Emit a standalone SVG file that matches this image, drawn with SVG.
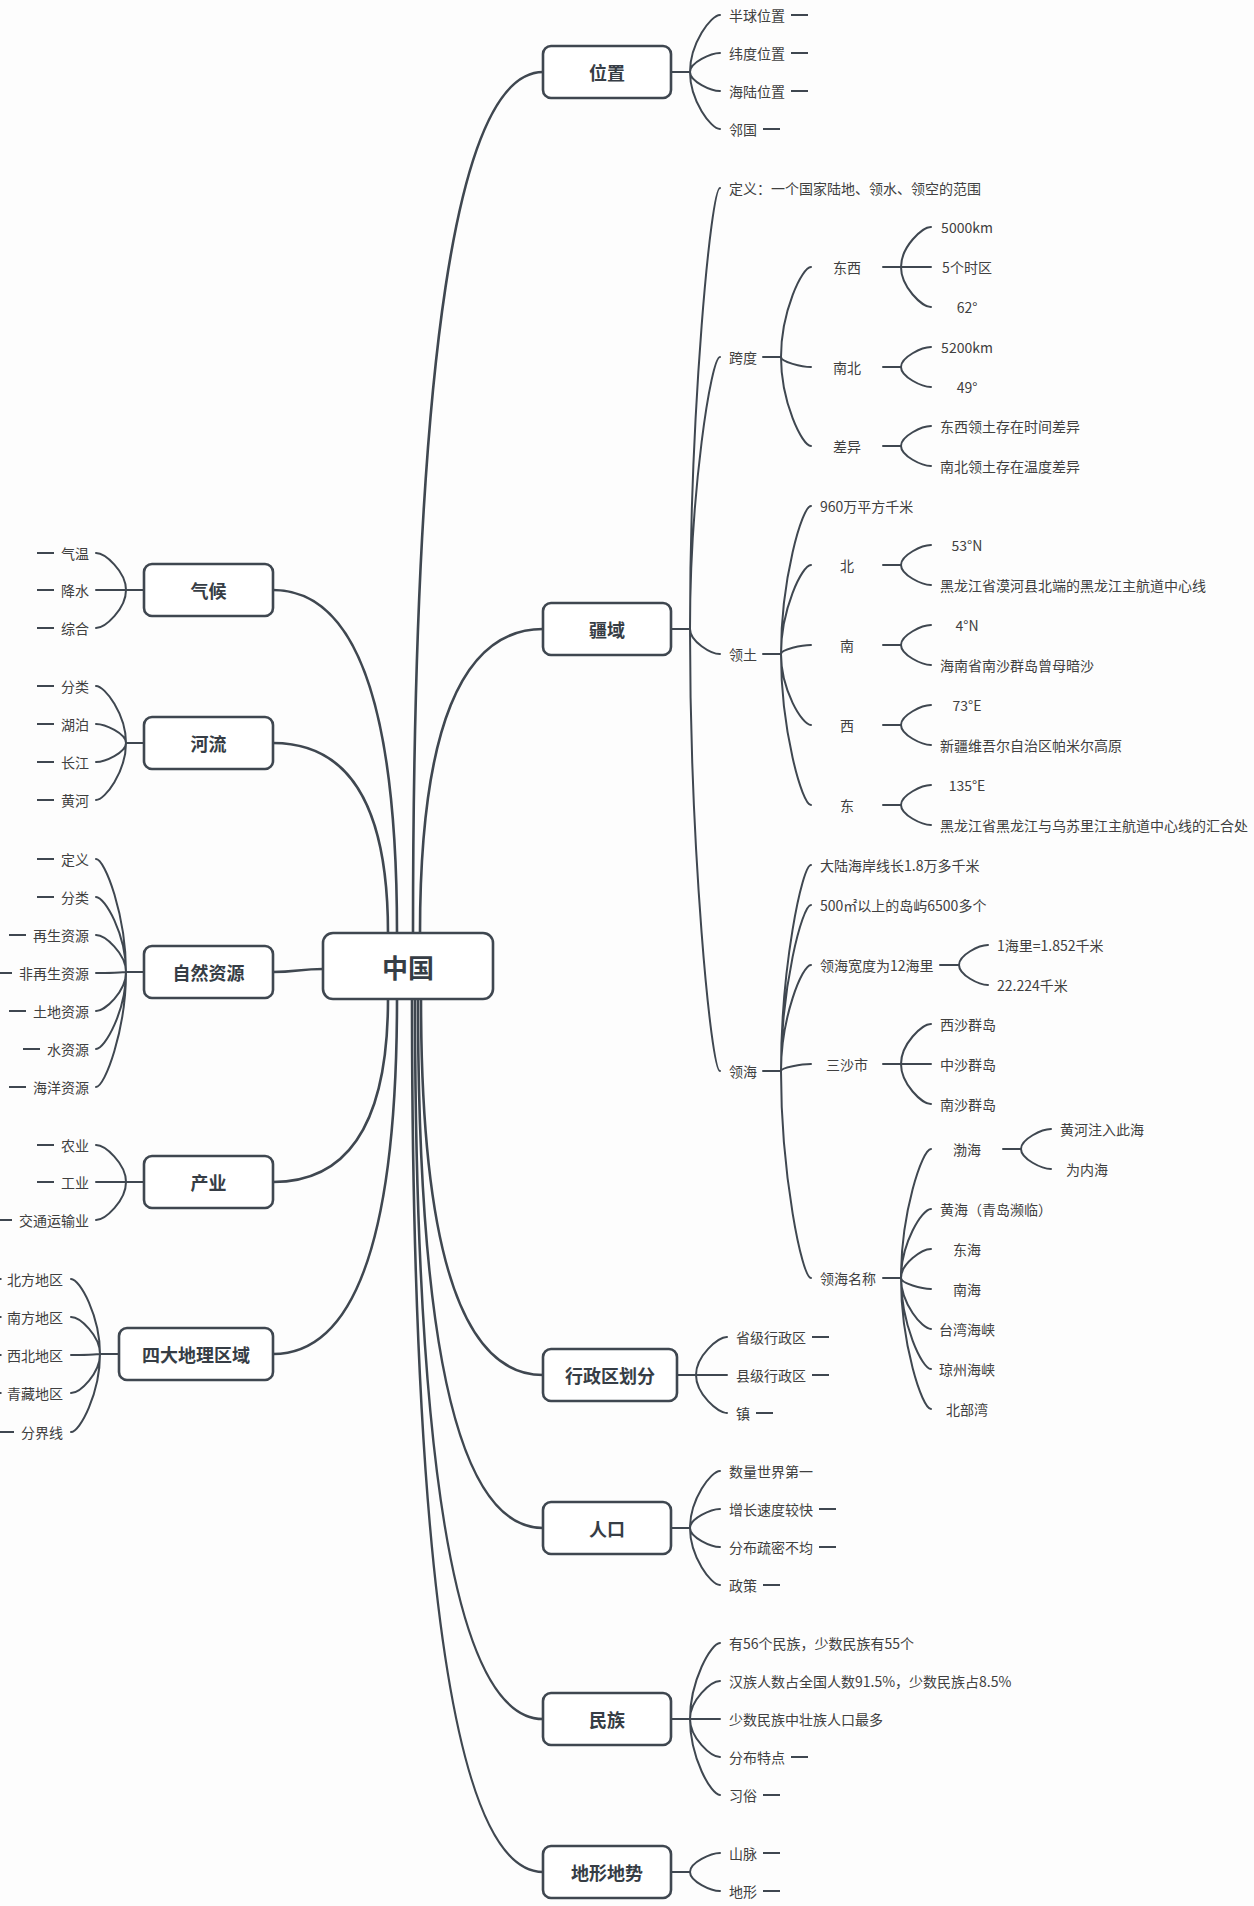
<svg xmlns="http://www.w3.org/2000/svg" width="1254" height="1906" viewBox="0 0 1254 1906">
<style>
.c{fill:none;stroke:#3f4750;stroke-width:2;stroke-linecap:round}
.m{stroke-width:2.6}
.b{fill:#fff;stroke:#3f4750;stroke-width:2.6}
.d{stroke:#3f4750;stroke-width:2}
text{font-family:"Noto Sans CJK SC","Noto Sans",sans-serif;dominant-baseline:central}
.t{font-size:14px;fill:#404040}
.e{text-anchor:end}
.mid{text-anchor:middle}
.h{font-size:18px;font-weight:bold;fill:#363d45;text-anchor:middle}
.ct{font-size:26px;font-weight:bold;fill:#363d45;text-anchor:middle}
</style>
<rect width="1254" height="1906" fill="#fdfdfd"/>
<g id="connectors" class="c">
<path class="m" d="M413,933 Q413,72 543,72"/>
<path class="m" d="M420,933 Q420,629 543,629"/>
<path class="m" d="M421,999 Q421,1375 543,1375"/>
<path class="m" d="M418,999 Q418,1528 543,1528"/>
<path class="m" d="M415,999 Q415,1719 543,1719"/>
<path class="m" d="M412,999 Q412,1872 543,1872"/>
<path class="m" d="M397,933 Q397,590 273,590"/>
<path class="m" d="M388,933 Q388,743 273,743"/>
<path class="m" d="M323,969 C300,969 296,972 273,972"/>
<path class="m" d="M388,999 Q388,1182 273,1182"/>
<path class="m" d="M397,999 Q397,1354 273,1354"/>
<path d="M671,72 H690 M690,72 C690,43.5 711,15 720,15 M690,72 C690,62.5 711,53 720,53 M690,72 C690,81.5 711,91 720,91 M690,72 C690,100.5 711,129 720,129"/>
<path d="M671,629 H690 M690,629 C690,408.5 711,188 720,188 M690,629 C690,493 711,357 720,357 M690,629 C690,641.5 711,654 720,654 M690,629 C690,850 711,1071 720,1071"/>
<path d="M763,357 H781 M781,357 C781,312 802,267 811,267 M781,357 C781,362 802,367 811,367 M781,357 C781,401.5 802,446 811,446"/>
<path d="M883,267 H901 M901,267 C901,247 922,227 931,227 M901,267 H931 M901,267 C901,287 922,307 931,307"/>
<path d="M883,367 H901 M901,367 C901,357 922,347 931,347 M901,367 C901,377 922,387 931,387"/>
<path d="M883,446 H901 M901,446 C901,436 922,426 931,426 M901,446 C901,456 922,466 931,466"/>
<path d="M763,654 H781 M781,654 C781,580 802,506 811,506 M781,654 C781,609.5 802,565 811,565 M781,654 C781,649.5 802,645 811,645 M781,654 C781,689.5 802,725 811,725 M781,654 C781,729.5 802,805 811,805"/>
<path d="M883,565 H901 M901,565 C901,555 922,545 931,545 M901,565 C901,575 922,585 931,585"/>
<path d="M883,645 H901 M901,645 C901,635 922,625 931,625 M901,645 C901,655 922,665 931,665"/>
<path d="M883,725 H901 M901,725 C901,715 922,705 931,705 M901,725 C901,735 922,745 931,745"/>
<path d="M883,805 H901 M901,805 C901,795 922,785 931,785 M901,805 C901,815 922,825 931,825"/>
<path d="M763,1071 H781 M781,1071 C781,968 802,865 811,865 M781,1071 C781,988 802,905 811,905 M781,1071 C781,1018 802,965 811,965 M781,1071 C781,1067.5 802,1064 811,1064 M781,1071 C781,1174.5 802,1278 811,1278"/>
<path d="M940,965 H959 M959,965 C959,955 979,945 988,945 M959,965 C959,975 979,985 988,985"/>
<path d="M883,1064 H901 M901,1064 C901,1044 922,1024 931,1024 M901,1064 H931 M901,1064 C901,1084 922,1104 931,1104"/>
<path d="M883,1278 H901 M901,1278 C901,1213.5 922,1149 931,1149 M901,1278 C901,1243.5 922,1209 931,1209 M901,1278 C901,1263.5 922,1249 931,1249 M901,1278 C901,1283.5 922,1289 931,1289 M901,1278 C901,1303.5 922,1329 931,1329 M901,1278 C901,1323.5 922,1369 931,1369 M901,1278 C901,1343.5 922,1409 931,1409"/>
<path d="M1003,1149 H1021 M1021,1149 C1021,1139 1042,1129 1051,1129 M1021,1149 C1021,1159 1042,1169 1051,1169"/>
<path d="M677,1375 H696 M696,1375 C696,1356 718,1337 727,1337 M696,1375 H727 M696,1375 C696,1394 718,1413 727,1413"/>
<path d="M671,1528 H690 M690,1528 C690,1499.5 711,1471 720,1471 M690,1528 C690,1518.5 711,1509 720,1509 M690,1528 C690,1537.5 711,1547 720,1547 M690,1528 C690,1556.5 711,1585 720,1585"/>
<path d="M671,1719 H690 M690,1719 C690,1681 711,1643 720,1643 M690,1719 C690,1700 711,1681 720,1681 M690,1719 H720 M690,1719 C690,1738 711,1757 720,1757 M690,1719 C690,1757 711,1795 720,1795"/>
<path d="M671,1872 H690 M690,1872 C690,1862.5 711,1853 720,1853 M690,1872 C690,1881.5 711,1891 720,1891"/>
<path d="M144,590 H126 M126,590 C126,571.5 105,553 96,553 M126,590 H96 M126,590 C126,609 105,628 96,628"/>
<path d="M144,743 H126 M126,743 C126,714.5 105,686 96,686 M126,743 C126,733.5 105,724 96,724 M126,743 C126,752.5 105,762 96,762 M126,743 C126,771.5 105,800 96,800"/>
<path d="M144,972 H126 M126,972 C126,915.5 105,859 96,859 M126,972 C126,934.5 105,897 96,897 M126,972 C126,953.5 105,935 96,935 M126,972 C126,972.5 105,973 96,973 M126,972 C126,991.5 105,1011 96,1011 M126,972 C126,1010.5 105,1049 96,1049 M126,972 C126,1029.5 105,1087 96,1087"/>
<path d="M144,1182 H126 M126,1182 C126,1163.5 105,1145 96,1145 M126,1182 H96 M126,1182 C126,1201 105,1220 96,1220"/>
<path d="M119,1354 H100 M100,1354 C100,1316.5 80,1279 71,1279 M100,1354 C100,1335.5 80,1317 71,1317 M100,1354 C100,1354.5 80,1355 71,1355 M100,1354 C100,1373.5 80,1393 71,1393 M100,1354 C100,1393 80,1432 71,1432"/>
</g>
<g id="center"><rect class="b" x="323" y="933" width="170" height="66" rx="10" stroke-width="3"/><text class="ct" x="408" y="966">中国</text></g>
<g id="n-weizhi"><rect class="b" x="543" y="46" width="128" height="52" rx="8"/><text class="h" x="607" y="72">位置</text></g>
<g id="n-banqiu"><text class="t" x="729" y="15">半球位置</text><line class="d" x1="791" y1="15" x2="808" y2="15"/></g>
<g id="n-weidu"><text class="t" x="729" y="53">纬度位置</text><line class="d" x1="791" y1="53" x2="808" y2="53"/></g>
<g id="n-hailu"><text class="t" x="729" y="91">海陆位置</text><line class="d" x1="791" y1="91" x2="808" y2="91"/></g>
<g id="n-linguo"><text class="t" x="729" y="129">邻国</text><line class="d" x1="763" y1="129" x2="780" y2="129"/></g>
<g id="n-jiangyu"><rect class="b" x="543" y="603" width="128" height="52" rx="8"/><text class="h" x="607" y="629">疆域</text></g>
<g id="n-dingyi"><text class="t" x="729" y="188">定义：一个国家陆地、领水、领空的范围</text></g>
<g id="n-kuadu"><text class="t" x="729" y="357">跨度</text></g>
<g id="n-dongxi"><text class="t mid" x="847" y="267">东西</text></g>
<g id="n-5000"><text class="t mid" x="967" y="227">5000km</text></g>
<g id="n-5sq"><text class="t mid" x="967" y="267">5个时区</text></g>
<g id="n-62"><text class="t mid" x="967" y="307">62°</text></g>
<g id="n-nanbei"><text class="t mid" x="847" y="367">南北</text></g>
<g id="n-5200"><text class="t mid" x="967" y="347">5200km</text></g>
<g id="n-49"><text class="t mid" x="967" y="387">49°</text></g>
<g id="n-chayi"><text class="t mid" x="847" y="446">差异</text></g>
<g id="n-cy1"><text class="t" x="940" y="426">东西领土存在时间差异</text></g>
<g id="n-cy2"><text class="t" x="940" y="466">南北领土存在温度差异</text></g>
<g id="n-lingtu"><text class="t" x="729" y="654">领土</text></g>
<g id="n-960"><text class="t" x="820" y="506">960万平方千米</text></g>
<g id="n-bei"><text class="t mid" x="847" y="565">北</text></g>
<g id="n-53"><text class="t mid" x="967" y="545">53°N</text></g>
<g id="n-bei2"><text class="t" x="940" y="585">黑龙江省漠河县北端的黑龙江主航道中心线</text></g>
<g id="n-nan"><text class="t mid" x="847" y="645">南</text></g>
<g id="n-4"><text class="t mid" x="967" y="625">4°N</text></g>
<g id="n-nan2"><text class="t" x="940" y="665">海南省南沙群岛曾母暗沙</text></g>
<g id="n-xi"><text class="t mid" x="847" y="725">西</text></g>
<g id="n-73"><text class="t mid" x="967" y="705">73°E</text></g>
<g id="n-xi2"><text class="t" x="940" y="745">新疆维吾尔自治区帕米尔高原</text></g>
<g id="n-dong"><text class="t mid" x="847" y="805">东</text></g>
<g id="n-135"><text class="t mid" x="967" y="785">135°E</text></g>
<g id="n-dong2"><text class="t" x="940" y="825">黑龙江省黑龙江与乌苏里江主航道中心线的汇合处</text></g>
<g id="n-linghai"><text class="t" x="729" y="1071">领海</text></g>
<g id="n-anx"><text class="t" x="820" y="865">大陆海岸线长1.8万多千米</text></g>
<g id="n-dao"><text class="t" x="820" y="905">500㎡以上的岛屿6500多个</text></g>
<g id="n-kuan"><text class="t" x="820" y="965">领海宽度为12海里</text></g>
<g id="n-hl1"><text class="t" x="997" y="945">1海里=1.852千米</text></g>
<g id="n-hl2"><text class="t" x="997" y="985">22.224千米</text></g>
<g id="n-sansha"><text class="t mid" x="847" y="1064">三沙市</text></g>
<g id="n-xisha"><text class="t" x="940" y="1024">西沙群岛</text></g>
<g id="n-zhongsha"><text class="t" x="940" y="1064">中沙群岛</text></g>
<g id="n-nansha"><text class="t" x="940" y="1104">南沙群岛</text></g>
<g id="n-mingcheng"><text class="t" x="820" y="1278">领海名称</text></g>
<g id="n-bohai"><text class="t mid" x="967" y="1149">渤海</text></g>
<g id="n-bh1"><text class="t" x="1060" y="1129">黄河注入此海</text></g>
<g id="n-bh2"><text class="t mid" x="1087" y="1169">为内海</text></g>
<g id="n-huanghai"><text class="t" x="940" y="1209">黄海（青岛濒临）</text></g>
<g id="n-donghai"><text class="t mid" x="967" y="1249">东海</text></g>
<g id="n-nanhai"><text class="t mid" x="967" y="1289">南海</text></g>
<g id="n-taiwan"><text class="t mid" x="967" y="1329">台湾海峡</text></g>
<g id="n-qiongzhou"><text class="t mid" x="967" y="1369">琼州海峡</text></g>
<g id="n-beibu"><text class="t mid" x="967" y="1409">北部湾</text></g>
<g id="n-xingzheng"><rect class="b" x="543" y="1349" width="134" height="52" rx="8"/><text class="h" x="610" y="1375">行政区划分</text></g>
<g id="n-sheng"><text class="t" x="736" y="1337">省级行政区</text><line class="d" x1="812" y1="1337" x2="829" y2="1337"/></g>
<g id="n-xian"><text class="t" x="736" y="1375">县级行政区</text><line class="d" x1="812" y1="1375" x2="829" y2="1375"/></g>
<g id="n-zhen"><text class="t" x="736" y="1413">镇</text><line class="d" x1="756" y1="1413" x2="773" y2="1413"/></g>
<g id="n-renkou"><rect class="b" x="543" y="1502" width="128" height="52" rx="8"/><text class="h" x="607" y="1528">人口</text></g>
<g id="n-rk1"><text class="t" x="729" y="1471">数量世界第一</text></g>
<g id="n-rk2"><text class="t" x="729" y="1509">增长速度较快</text><line class="d" x1="819" y1="1509" x2="836" y2="1509"/></g>
<g id="n-rk3"><text class="t" x="729" y="1547">分布疏密不均</text><line class="d" x1="819" y1="1547" x2="836" y2="1547"/></g>
<g id="n-rk4"><text class="t" x="729" y="1585">政策</text><line class="d" x1="763" y1="1585" x2="780" y2="1585"/></g>
<g id="n-minzu"><rect class="b" x="543" y="1693" width="128" height="52" rx="8"/><text class="h" x="607" y="1719">民族</text></g>
<g id="n-mz1"><text class="t" x="729" y="1643">有56个民族，少数民族有55个</text></g>
<g id="n-mz2"><text class="t" x="729" y="1681">汉族人数占全国人数91.5%，少数民族占8.5%</text></g>
<g id="n-mz3"><text class="t" x="729" y="1719">少数民族中壮族人口最多</text></g>
<g id="n-mz4"><text class="t" x="729" y="1757">分布特点</text><line class="d" x1="791" y1="1757" x2="808" y2="1757"/></g>
<g id="n-mz5"><text class="t" x="729" y="1795">习俗</text><line class="d" x1="763" y1="1795" x2="780" y2="1795"/></g>
<g id="n-dixing"><rect class="b" x="543" y="1846" width="128" height="52" rx="8"/><text class="h" x="607" y="1872">地形地势</text></g>
<g id="n-shanmai"><text class="t" x="729" y="1853">山脉</text><line class="d" x1="763" y1="1853" x2="780" y2="1853"/></g>
<g id="n-dixing2"><text class="t" x="729" y="1891">地形</text><line class="d" x1="763" y1="1891" x2="780" y2="1891"/></g>
<g id="n-qihou"><rect class="b" x="144" y="564" width="129" height="52" rx="8"/><text class="h" x="208.5" y="590">气候</text></g>
<g id="n-qw"><text class="t e" x="89" y="553">气温</text><line class="d" x1="37" y1="553" x2="54" y2="553"/></g>
<g id="n-js"><text class="t e" x="89" y="590">降水</text><line class="d" x1="37" y1="590" x2="54" y2="590"/></g>
<g id="n-zh"><text class="t e" x="89" y="628">综合</text><line class="d" x1="37" y1="628" x2="54" y2="628"/></g>
<g id="n-heliu"><rect class="b" x="144" y="717" width="129" height="52" rx="8"/><text class="h" x="208.5" y="743">河流</text></g>
<g id="n-hl-fl"><text class="t e" x="89" y="686">分类</text><line class="d" x1="37" y1="686" x2="54" y2="686"/></g>
<g id="n-hl-hp"><text class="t e" x="89" y="724">湖泊</text><line class="d" x1="37" y1="724" x2="54" y2="724"/></g>
<g id="n-hl-cj"><text class="t e" x="89" y="762">长江</text><line class="d" x1="37" y1="762" x2="54" y2="762"/></g>
<g id="n-hl-hh"><text class="t e" x="89" y="800">黄河</text><line class="d" x1="37" y1="800" x2="54" y2="800"/></g>
<g id="n-ziran"><rect class="b" x="144" y="946" width="129" height="52" rx="8"/><text class="h" x="208.5" y="972">自然资源</text></g>
<g id="n-zr1"><text class="t e" x="89" y="859">定义</text><line class="d" x1="37" y1="859" x2="54" y2="859"/></g>
<g id="n-zr2"><text class="t e" x="89" y="897">分类</text><line class="d" x1="37" y1="897" x2="54" y2="897"/></g>
<g id="n-zr3"><text class="t e" x="89" y="935">再生资源</text><line class="d" x1="9" y1="935" x2="26" y2="935"/></g>
<g id="n-zr4"><text class="t e" x="89" y="973">非再生资源</text><line class="d" x1="-5" y1="973" x2="12" y2="973"/></g>
<g id="n-zr5"><text class="t e" x="89" y="1011">土地资源</text><line class="d" x1="9" y1="1011" x2="26" y2="1011"/></g>
<g id="n-zr6"><text class="t e" x="89" y="1049">水资源</text><line class="d" x1="23" y1="1049" x2="40" y2="1049"/></g>
<g id="n-zr7"><text class="t e" x="89" y="1087">海洋资源</text><line class="d" x1="9" y1="1087" x2="26" y2="1087"/></g>
<g id="n-chanye"><rect class="b" x="144" y="1156" width="129" height="52" rx="8"/><text class="h" x="208.5" y="1182">产业</text></g>
<g id="n-cy-ny"><text class="t e" x="89" y="1145">农业</text><line class="d" x1="37" y1="1145" x2="54" y2="1145"/></g>
<g id="n-cy-gy"><text class="t e" x="89" y="1182">工业</text><line class="d" x1="37" y1="1182" x2="54" y2="1182"/></g>
<g id="n-cy-jt"><text class="t e" x="89" y="1220">交通运输业</text><line class="d" x1="-5" y1="1220" x2="12" y2="1220"/></g>
<g id="n-sida"><rect class="b" x="119" y="1328" width="154" height="52" rx="8"/><text class="h" x="196" y="1354">四大地理区域</text></g>
<g id="n-sd1"><text class="t e" x="63" y="1279">北方地区</text><line class="d" x1="-16" y1="1279" x2="1.5" y2="1279"/></g>
<g id="n-sd2"><text class="t e" x="63" y="1317">南方地区</text><line class="d" x1="-16" y1="1317" x2="1.5" y2="1317"/></g>
<g id="n-sd3"><text class="t e" x="63" y="1355">西北地区</text><line class="d" x1="-16" y1="1355" x2="1.5" y2="1355"/></g>
<g id="n-sd4"><text class="t e" x="63" y="1393">青藏地区</text><line class="d" x1="-16" y1="1393" x2="1.5" y2="1393"/></g>
<g id="n-sd5"><text class="t e" x="63" y="1432">分界线</text><line class="d" x1="-3" y1="1432" x2="14" y2="1432"/></g>
</svg>
